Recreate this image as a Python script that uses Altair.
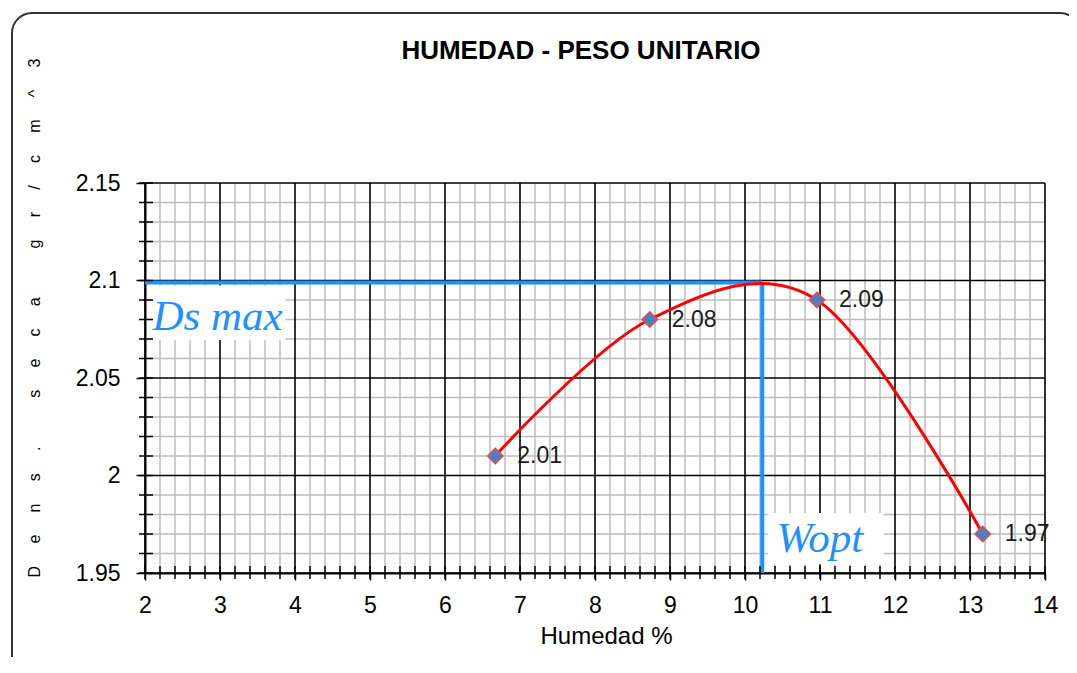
import altair as alt
import pandas as pd

# ---- data ----
humedad = [6.67, 8.73, 10.96, 13.17]
densidad = [2.01, 2.08, 2.09, 1.97]
ds_max = 2.099
w_opt = 10.23

x_ticks = list(range(2, 15))
y_ticks = [1.95, 2.0, 2.05, 2.1, 2.15]
x_minor = [round(2 + 0.2 * i, 1) for i in range(61)]
y_minor = [round(1.95 + 0.01 * i, 2) for i in range(21)]

chart_title = "HUMEDAD - PESO  UNITARIO"
x_title = "Humedad %"
y_words = ["Dens.", "seca", "gr/cm^3"]
ann_labels = ["Ds max", "Wopt"]
ann_x = [2.1, 10.42]
ann_y = [2.0745, 1.9608]
box_x = [2.1, 10.31]
box_x2 = [3.87, 11.85]
box_y = [2.0975, 1.9808]
box_y2 = [2.0695, 1.9545]

W, H = 900, 390
FONT = "Liberation Sans"
BLUE = "#1E90FF"

xs = alt.Scale(domain=[2, 14], nice=False, zero=False)
ys = alt.Scale(domain=[1.95, 2.15], nice=False, zero=False)

pts = pd.DataFrame({"x": humedad, "y": densidad})
one = pd.DataFrame({"a": [0]})
ann = pd.DataFrame({"t": ann_labels, "x": ann_x, "y": ann_y})
boxes = pd.DataFrame({"x": box_x, "x2": box_x2, "y": box_y, "y2": box_y2})
blue = pd.DataFrame({"x": [2, w_opt], "x2": [w_opt, w_opt], "y": [ds_max, 1.95], "y2": [ds_max, ds_max]})

xminor_df = pd.DataFrame({"x": [v for v in x_minor if abs(v - round(v)) > 1e-6]})
yminor_df = pd.DataFrame({"y": [v for v in y_minor if round(v * 100) % 5 != 0]})
xmaj_df = pd.DataFrame({"x": x_ticks})
ymaj_df = pd.DataFrame({"y": y_ticks})
xtick_df = pd.DataFrame({"x": x_minor})
ytick_df = pd.DataFrame({"y": y_minor})

x_axis = alt.Axis(values=x_ticks, format="d", grid=False, domainColor="black", domainWidth=2,
                  tickColor="black", tickSize=7, tickWidth=1.5, labelFont=FONT, labelFontSize=23,
                  labelColor="black", labelPadding=14, labelFlush=False, title=x_title,
                  titleFont=FONT, titleFontSize=24, titleFontWeight="normal", titleColor="black",
                  titleX=461, titleY=70, titleBaseline="alphabetic", titleAlign="center")
y_axis = alt.Axis(values=y_ticks, format="~g", grid=False, domainColor="black", domainWidth=2,
                  tickColor="black", tickSize=9, tickWidth=1.5, labelFont=FONT, labelFontSize=23,
                  labelColor="black", labelPadding=16, labelFlush=False, title=None)

def X(f="x"):
    return alt.X(f"{f}:Q", scale=xs, axis=x_axis, title=x_title)

def Y(f="y"):
    return alt.Y(f"{f}:Q", scale=ys, axis=y_axis, title=None)

minor_v = alt.Chart(xminor_df).mark_rule(color="#BDBDBD", strokeWidth=1.5).encode(x=X())
minor_h = alt.Chart(yminor_df).mark_rule(color="#BDBDBD", strokeWidth=1.5).encode(y=Y())
major_v = alt.Chart(xmaj_df).mark_rule(color="black", strokeWidth=1.6).encode(x=X())
major_h = alt.Chart(ymaj_df).mark_rule(color="black", strokeWidth=1.6).encode(y=Y())

box_layer = alt.Chart(boxes).mark_rect(color="white").encode(
    x=X(), x2="x2:Q", y=Y(), y2="y2:Q")

blue_layer = alt.Chart(blue).mark_rule(color=BLUE, strokeWidth=4).encode(
    x=X(), x2="x2:Q", y=Y(), y2="y2:Q")

xticks_layer = alt.Chart(xtick_df).mark_rule(color="black", strokeWidth=1.5).encode(
    x=X(), y=alt.value(H - 7), y2=alt.value(H + 6))
yticks_layer = alt.Chart(ytick_df).mark_rule(color="black", strokeWidth=1.5).encode(
    y=Y(), x=alt.value(-6), x2=alt.value(8))

curve = alt.Chart(pts).mark_line(color="#FF0000", strokeWidth=3, interpolate="cardinal").encode(
    x=X(), y=Y())

points = alt.Chart(pts).mark_point(shape="diamond", filled=True, size=240, fill="#4F7EC0",
                                   stroke="#E8494D", strokeWidth=1.5, opacity=1).encode(x=X(), y=Y())

labels = alt.Chart(pts).mark_text(align="left", baseline="middle", dx=22, font=FONT,
                                  fontSize=23, color="#1a1a1a").encode(
    x=X(), y=Y(), text=alt.Text("y:Q", format=".2f"))

ann_layer = alt.Chart(ann).mark_text(align="left", baseline="alphabetic", font="Liberation Serif",
                                     fontStyle="italic", fontSize=43, color=BLUE).encode(
    x=X(), y=Y(), text="t:N")

title_layer = alt.Chart(one).mark_text(align="center", baseline="alphabetic", font=FONT,
                                       fontWeight="bold", fontSize=26, color="black").encode(
    x=alt.value(436), y=alt.value(-124), text=alt.value(chart_title))

nb = "\u00a0"
y_title = (nb * 11).join((nb * 5).join(list(w)) for w in y_words)
ytitle_layer = alt.Chart(one).mark_text(align="center", baseline="middle", angle=270, font=FONT,
                                        fontSize=16, color="black").encode(
    x=alt.value(-110), y=alt.value(135), text=alt.value(y_title))

border = alt.Chart(one).mark_rect(filled=False, stroke="#333333", strokeWidth=2,
                                  cornerRadius=20).encode(
    x=alt.value(-133), x2=alt.value(935), y=alt.value(-170), y2=alt.value(494))

chart = alt.layer(
    minor_v, minor_h, major_v, major_h, box_layer, blue_layer, xticks_layer, yticks_layer,
    curve, points, labels, ann_layer, title_layer, ytitle_layer, border
).properties(
    width=W, height=H,
    autosize=alt.AutoSizeParams(type="none"),
    padding={"left": 137, "top": 175, "right": 24, "bottom": 84},
).configure_view(stroke=None)

chart.save("out.html", embed_options={"renderer": "svg", "actions": False})
